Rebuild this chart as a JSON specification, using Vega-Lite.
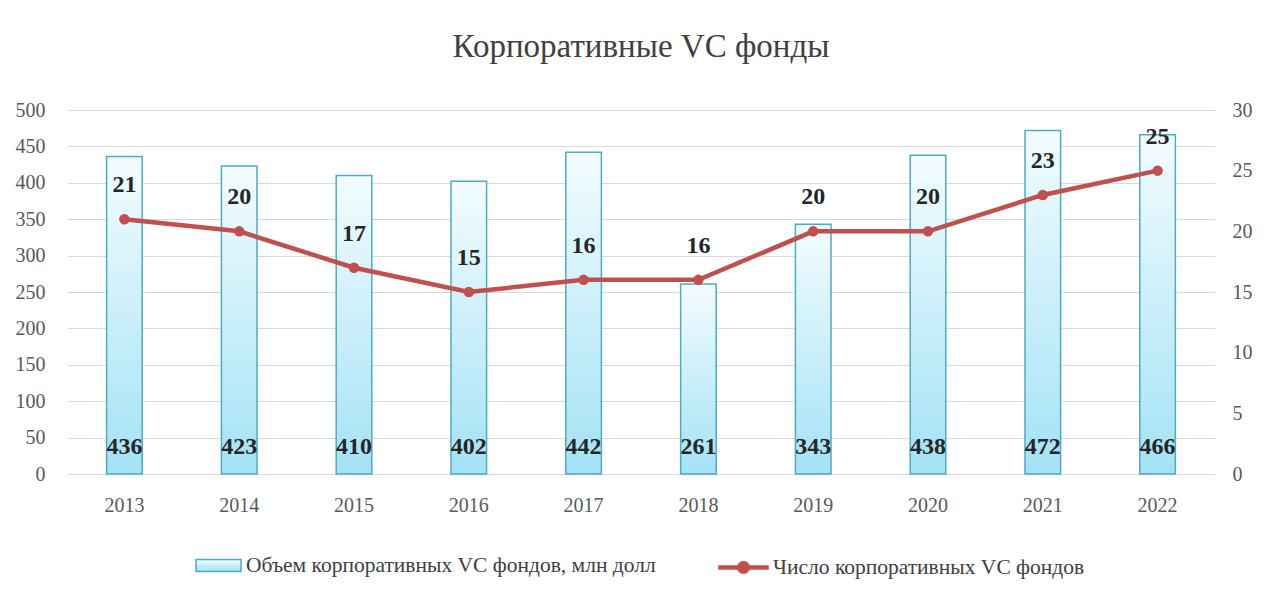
{
  "$schema": "https://vega.github.io/schema/vega-lite/v6.json",
  "width": 1148,
  "height": 364,
  "autosize": {"type": "none"},
  "padding": {"left": 67, "top": 110, "right": 57, "bottom": 136},
  "background": "white",
  "title": {
    "text": "Корпоративные VC фонды",
    "font": "Liberation Serif",
    "fontSize": 33,
    "fontWeight": "normal",
    "color": "#404040",
    "anchor": "middle",
    "offset": 36
  },
  "config": {
    "font": "Liberation Serif",
    "view": {"stroke": null},
    "axis": {
      "labelFont": "Liberation Serif",
      "labelFontSize": 20,
      "labelColor": "#595959",
      "domain": false,
      "ticks": false,
      "title": null
    }
  },
  "data": {
    "values": [
      {"year": "2013", "volume": 436, "count": 21, "s1": "Объем корпоративных VC фондов, млн долл", "s2": "Число корпоративных VC фондов"},
      {"year": "2014", "volume": 423, "count": 20, "s1": "Объем корпоративных VC фондов, млн долл", "s2": "Число корпоративных VC фондов"},
      {"year": "2015", "volume": 410, "count": 17, "s1": "Объем корпоративных VC фондов, млн долл", "s2": "Число корпоративных VC фондов"},
      {"year": "2016", "volume": 402, "count": 15, "s1": "Объем корпоративных VC фондов, млн долл", "s2": "Число корпоративных VC фондов"},
      {"year": "2017", "volume": 442, "count": 16, "s1": "Объем корпоративных VC фондов, млн долл", "s2": "Число корпоративных VC фондов"},
      {"year": "2018", "volume": 261, "count": 16, "s1": "Объем корпоративных VC фондов, млн долл", "s2": "Число корпоративных VC фондов"},
      {"year": "2019", "volume": 343, "count": 20, "s1": "Объем корпоративных VC фондов, млн долл", "s2": "Число корпоративных VC фондов"},
      {"year": "2020", "volume": 438, "count": 20, "s1": "Объем корпоративных VC фондов, млн долл", "s2": "Число корпоративных VC фондов"},
      {"year": "2021", "volume": 472, "count": 23, "s1": "Объем корпоративных VC фондов, млн долл", "s2": "Число корпоративных VC фондов"},
      {"year": "2022", "volume": 466, "count": 25, "s1": "Объем корпоративных VC фондов, млн долл", "s2": "Число корпоративных VC фондов"}
    ]
  },
  "encoding": {
    "x": {
      "field": "year",
      "type": "ordinal",
      "scale": {"paddingInner": 0.69, "paddingOuter": 0.345},
      "axis": {"labelAngle": 0, "labelPadding": 21, "grid": false}
    }
  },
  "layer": [
    {
      "encoding": {
        "y": {
          "field": "volume",
          "type": "quantitative",
          "scale": {"domain": [0, 500], "nice": false},
          "axis": {"values": [0, 50, 100, 150, 200, 250, 300, 350, 400, 450, 500], "labelPadding": 22, "grid": true, "gridColor": "#d9d9d9", "gridWidth": 1.2, "orient": "left"}
        }
      },
      "layer": [
        {
          "mark": {
            "type": "bar",
            "fill": {
              "gradient": "linear",
              "x1": 0, "y1": 0, "x2": 0, "y2": 1,
              "stops": [
                {"offset": 0, "color": "#f3fcff"},
                {"offset": 1, "color": "#a3e2f5"}
              ]
            },
            "strokeWidth": 1.5
          },
          "encoding": {
            "stroke": {
              "field": "s1",
              "type": "nominal",
              "scale": {"range": ["#4bacc6"]},
              "legend": {
                "title": null,
                "orient": "none",
                "legendX": 128,
                "legendY": 432,
                "labelFont": "Liberation Serif",
                "labelFontSize": 21.5,
                "labelColor": "#404040",
                "labelOffset": 4,
                "labelLimit": 600,
                "symbolType": "M-1,-0.27H1V0.27H-1Z",
                "symbolSize": 2025,
                "encode": {"symbols": {"update": {"fill": {"value": "#c7eefa"}, "stroke": {"value": "#4bacc6"}, "strokeWidth": {"value": 1.5}, "opacity": {"value": 1}}}}
              }
            }
          }
        },
        {
          "mark": {"type": "text", "font": "Liberation Serif", "fontSize": 24, "fontWeight": "bold", "color": "#262626", "baseline": "middle", "dy": -27},
          "encoding": {
            "y": {"datum": 0, "type": "quantitative"},
            "text": {"field": "volume", "type": "quantitative"}
          }
        }
      ]
    },
    {
      "encoding": {
        "y": {
          "field": "count",
          "type": "quantitative",
          "scale": {"domain": [0, 30], "nice": false},
          "axis": {"values": [0, 5, 10, 15, 20, 25, 30], "labelPadding": 17, "grid": false, "orient": "right"}
        }
      },
      "layer": [
        {
          "mark": {"type": "line", "strokeWidth": 4.5, "point": {"filled": true, "size": 110, "color": "#c0504d"}},
          "encoding": {
            "color": {
              "field": "s2",
              "type": "nominal",
              "scale": {"range": ["#c0504d"]},
              "legend": {
                "title": null,
                "orient": "none",
                "legendX": 651,
                "legendY": 432,
                "labelFont": "Liberation Serif",
                "labelFontSize": 21.5,
                "labelColor": "#404040",
                "labelOffset": 4,
                "labelLimit": 600,
                "symbolType": "M-1,-0.08H-0.2V0.08H-1Z M0.2,-0.08H1V0.08H0.2Z M0.25,0A0.25,0.25,0,1,1,-0.25,0A0.25,0.25,0,1,1,0.25,0Z",
                "symbolSize": 2500,
                "encode": {"symbols": {"update": {"fill": {"value": "#c0504d"}, "stroke": {"value": "#c0504d"}, "strokeWidth": {"value": 0.5}, "opacity": {"value": 1}}}}
              }
            }
          }
        },
        {
          "mark": {"type": "text", "font": "Liberation Serif", "fontSize": 24, "fontWeight": "bold", "color": "#262626", "baseline": "middle", "dy": -34},
          "encoding": {
            "text": {"field": "count", "type": "quantitative"}
          }
        }
      ]
    }
  ],
  "resolve": {"scale": {"y": "independent"}}
}
